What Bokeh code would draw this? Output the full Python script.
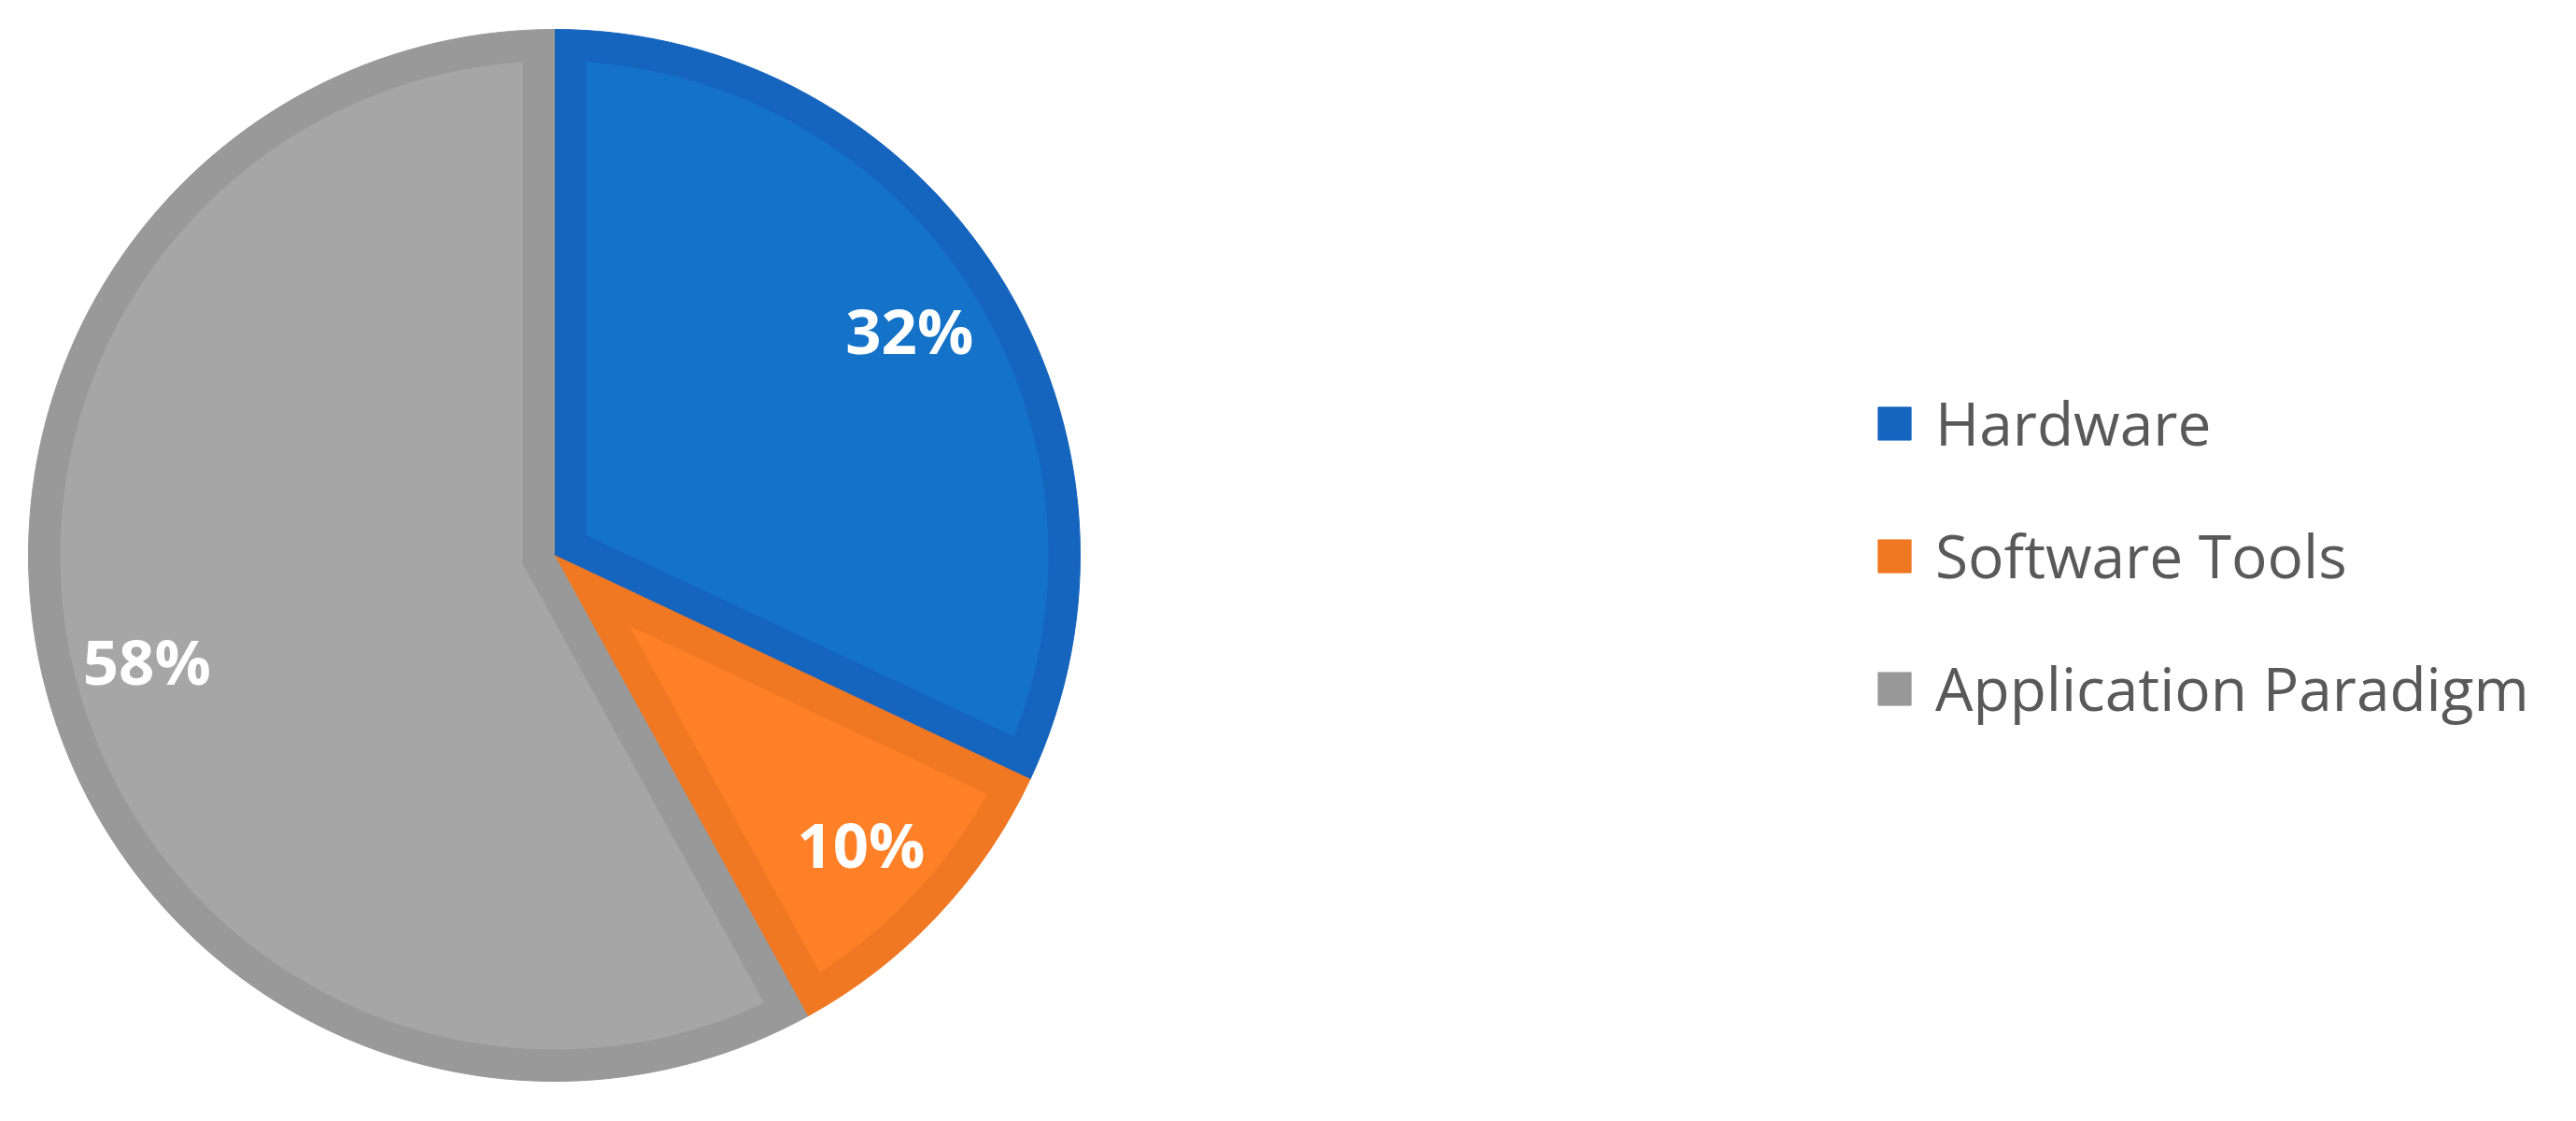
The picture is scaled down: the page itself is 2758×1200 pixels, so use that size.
import numpy as np
from bokeh.plotting import figure
from bokeh.models import Range1d, Legend, LegendItem, ColumnDataSource
from bokeh.core.properties import value
from bokeh.embed import file_html
from bokeh.resources import INLINE

# ---- data ----
categories = ["Hardware", "Software Tools", "Application Paradigm"]
shares = [32, 10, 58]
labels = ["32%", "10%", "58%"]
fill_colors = ["#1473C9", "#FF8026", "#A6A6A6"]
edge_colors = ["#1564BE", "#F07822", "#999999"]

W, H = 2742, 1184
p = figure(width=W, height=H, output_backend="svg", toolbar_location=None,
           x_range=Range1d(0, W), y_range=Range1d(0, H), min_border=0)
p.axis.visible = False
p.grid.visible = False
p.outline_line_color = None
p.background_fill_color = "white"
p.border_fill_color = "white"

cx, cy, R = 593, 590, 563
inset = 34

vals = np.array(shares, dtype=float)
frac = vals / vals.sum()
cum = np.concatenate([[0], np.cumsum(frac)])
start = np.pi / 2 - 2 * np.pi * cum[:-1]   # clockwise from top
end = np.pi / 2 - 2 * np.pi * cum[1:]

src = ColumnDataSource(dict(cat=categories, start=start, end=end,
                            fill=fill_colors, edge=edge_colors))

# outer (border-colour) wedges
wr = p.wedge(x=cx, y=cy, radius=R, start_angle="start", end_angle="end",
             direction="clock", fill_color="edge", line_color="edge",
             line_width=1, source=src)

# inner lighter regions, inset from the wedge boundary
xs, ys = [], []
for a_hi, a_lo in zip(start, end):
    half = (a_hi - a_lo) / 2
    mid = (a_hi + a_lo) / 2
    ri = R - inset
    da = inset / ri
    t = np.linspace(a_hi - da, a_lo + da, 200)
    s = inset / np.sin(half)
    ax, ay = cx + s * np.cos(mid), cy + s * np.sin(mid)
    xs.append(list(np.r_[ax, cx + ri * np.cos(t)]))
    ys.append(list(np.r_[ay, cy + ri * np.sin(t)]))
p.patches(xs=xs, ys=ys, fill_color=fill_colors, line_color=None)

# labels
mids = (start + end) / 2
lr = 0.8 * R
p.text(x=cx + lr * np.cos(mids), y=cy + lr * np.sin(mids), text=labels,
       text_color="white", text_font=value("Open Sans"), text_font_style="bold",
       text_font_size="67px", text_align="center", text_baseline="middle")

# legend
items = [LegendItem(label=c, renderers=[wr], index=i) for i, c in enumerate(categories)]
legend = Legend(items=items, location=(2006, 404), orientation="vertical",
                glyph_width=44, glyph_height=44, label_height=60,
                spacing=55, padding=0, margin=0, label_standoff=22,
                label_text_font="Open Sans", label_text_font_size="64px",
                label_text_color="#595959", border_line_color=None,
                background_fill_alpha=0)
p.add_layout(legend, "center")

open("out.html", "w").write(file_html(p, INLINE))
